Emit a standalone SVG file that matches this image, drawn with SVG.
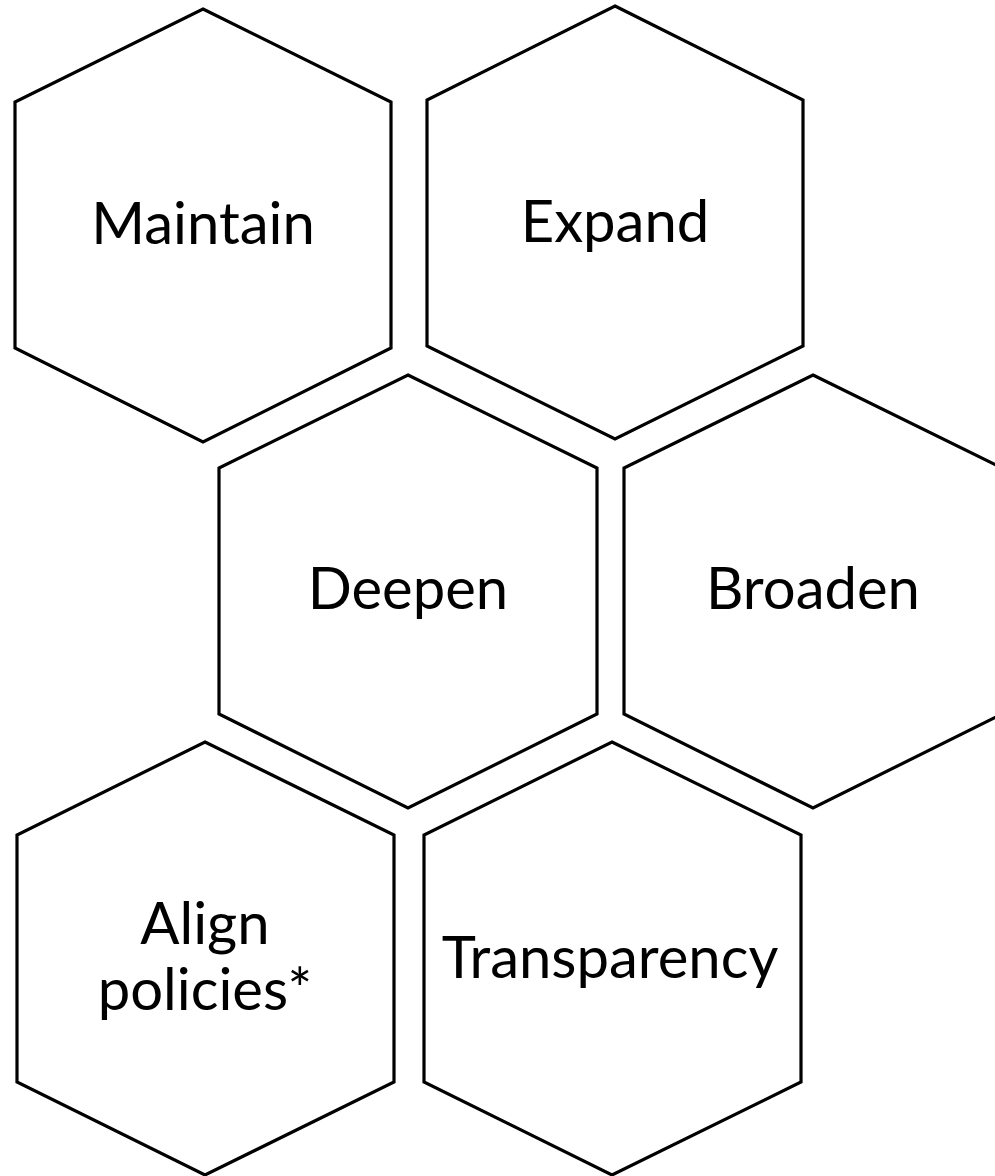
<svg xmlns="http://www.w3.org/2000/svg" width="995" height="1176" viewBox="0 0 995 1176">
<style>
.hex{fill:#fff;stroke:#000;stroke-width:3.2;stroke-linejoin:miter}
.lbl{font-family:"Lato","Open Sans",sans-serif;font-size:58px;fill:#000;text-anchor:middle}
</style>
<rect width="995" height="1176" fill="#fff"/>
<g id="node-maintain">
<polygon class="hex" points="203,9 391,102 391,348 203,442 15,348 15,102"/>
<text class="lbl" x="203" y="244">Maintain</text>
</g>
<g id="node-expand">
<polygon class="hex" points="615,6 803,100 803,346 615,439 427,346 427,100"/>
<text class="lbl" x="615" y="242">Expand</text>
</g>
<g id="node-deepen">
<polygon class="hex" points="408,375 597,468 597,714 408,808 219,714 219,468"/>
<text class="lbl" x="408" y="609">Deepen</text>
</g>
<g id="node-broaden">
<polygon class="hex" points="813,375 1002,468 1002,714 813,808 624,714 624,468"/>
<text class="lbl" x="813" y="609">Broaden</text>
</g>
<g id="node-align">
<polygon class="hex" points="205,742 394,835 394,1082 205,1175 17,1082 17,835"/>
<text class="lbl"><tspan x="205" y="944">Align</tspan><tspan x="205" y="1010">policies*</tspan></text>
</g>
<g id="node-transparency">
<polygon class="hex" points="612,742 801,835 801,1082 612,1175 424,1082 424,835"/>
<text class="lbl" x="610" y="978">Transparency</text>
</g>
<g id="connectors"/>
</svg>
